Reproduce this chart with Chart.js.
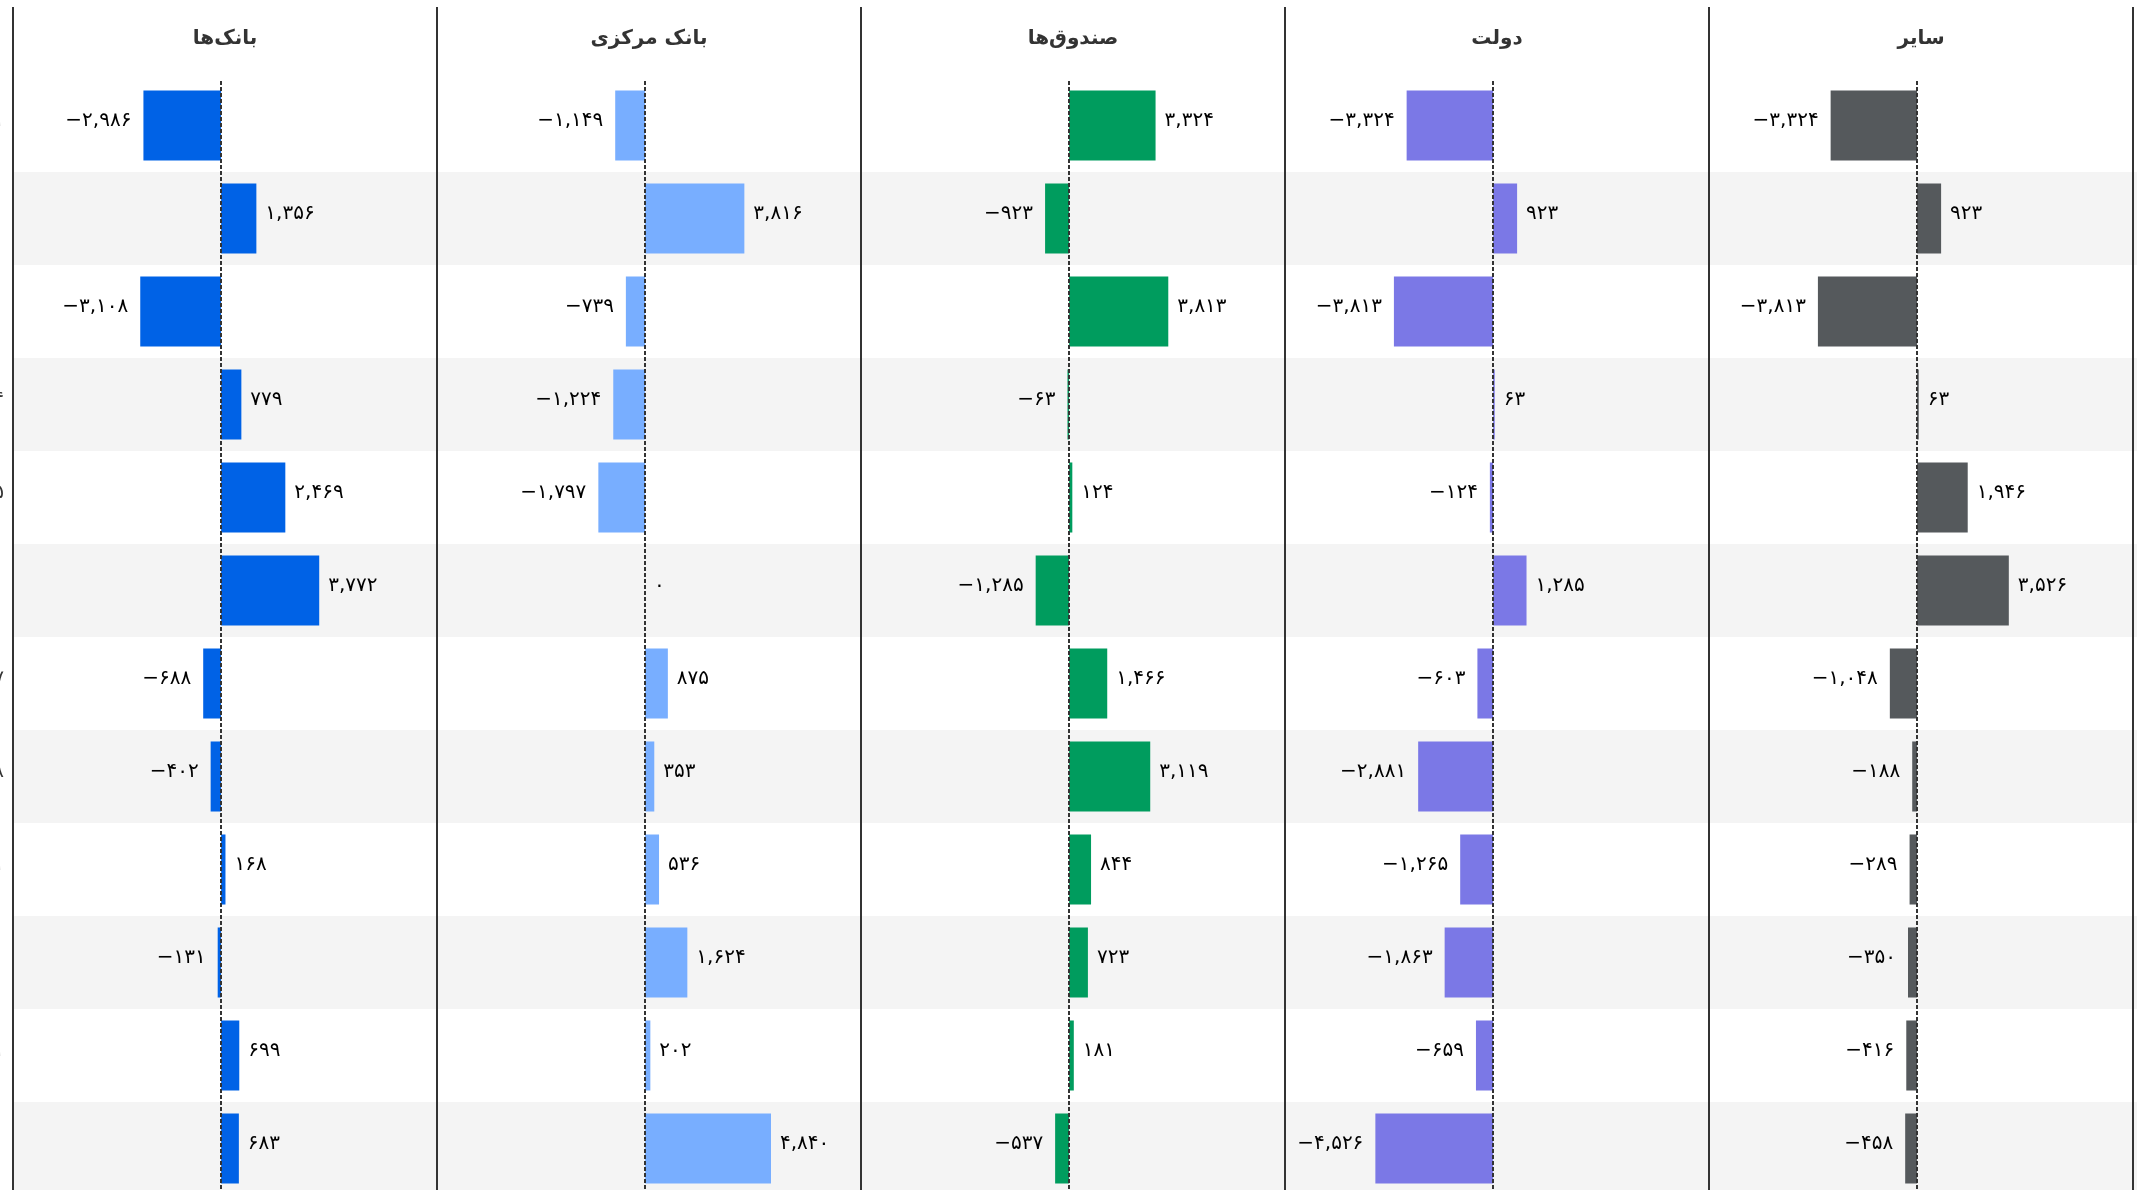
<!DOCTYPE html>
<html lang="fa">
<head>
    <meta charset="UTF-8">
    <title>سهم بخش‌ها</title>
    <style>
        body {
            margin: 0;
            width: 2137px;
            height: 1190px;
            overflow: hidden;
            position: relative;
            background: #ffffff;
            font-family: "DejaVu Sans", sans-serif;
        }
        .panel {
            position: absolute;
            top: 0;
        }
        .sep {
            position: absolute;
            top: 7px;
            height: 1190px;
            width: 2px;
            background: #333333;
        }
    </style>
</head>
<body>
    <div class="panel" style="left:-47px"><canvas id="c0" width="484" height="1200"></canvas></div>
    <div class="panel" style="left:437px"><canvas id="c1" width="424" height="1200"></canvas></div>
    <div class="panel" style="left:861px"><canvas id="c2" width="424" height="1200"></canvas></div>
    <div class="panel" style="left:1285px"><canvas id="c3" width="424" height="1200"></canvas></div>
    <div class="panel" style="left:1709px"><canvas id="c4" width="428" height="1200"></canvas></div>

    <div class="sep" style="left:12px"></div>
    <div class="sep" style="left:436px"></div>
    <div class="sep" style="left:860px"></div>
    <div class="sep" style="left:1284px"></div>
    <div class="sep" style="left:1708px"></div>
    <div class="sep" style="left:2132px"></div>

    <script src="https://cdn.jsdelivr.net/npm/chart.js"></script>
    <script>
        // row labels (only their last glyph is visible at the left edge)
        const categories = ['۱۴۰۱', '۱۴۰۰', '۱۳۹۰', '۱۳۹۴', '۱۳۹۵', '۱۳۸۰', '۱۳۹۷', '۱۳۹۸', '۱۳۹۱', '۱۳۷۰', '۱۳۸۱', '۱۳۶۰'];

        const panelTitles = ['بانک\u200cها', 'بانک مرکزی', 'صندوق\u200cها', 'دولت', 'سایر'];

        const banks = [-2986, 1356, -3108, 779, 2469, 3772, -688, -402, 168, -131, 699, 683];
        const centralBank = [-1149, 3816, -739, -1224, -1797, 0, 875, 353, 536, 1624, 202, 4840];
        const funds = [3324, -923, 3813, -63, 124, -1285, 1466, 3119, 844, 723, 181, -537];
        const government = [-3324, 923, -3813, 63, -124, 1285, -603, -2881, -1265, -1863, -659, -4526];
        const others = [-3324, 923, -3813, 63, 1946, 3526, -1048, -188, -289, -350, -416, -458];

        const panelColors = ['#0062e6', '#78aeff', '#009c5e', '#7b78e6', '#55595c'];

        const faDigits = '۰۱۲۳۴۵۶۷۸۹';
        function fmt(v) {
            const s = Math.abs(v).toLocaleString('en-US').replace(/\d/g, d => faDigits[d]);
            return (v < 0 ? '−' : '') + s;
        }

        Chart.defaults.font.family = '"DejaVu Sans", sans-serif';

        // alternating grey rows
        const rowBands = {
            id: 'rowBands',
            beforeDatasetsDraw(chart) {
                const { ctx, chartArea, scales } = chart;
                const y = scales.y;
                const h = y.getPixelForValue(1) - y.getPixelForValue(0);
                ctx.save();
                ctx.fillStyle = '#f4f4f4';
                for (let i = 1; i < categories.length; i += 2) {
                    const yc = y.getPixelForValue(i);
                    ctx.fillRect(chartArea.left, yc - h / 2, chart.width - chartArea.left, h);
                }
                ctx.restore();
            }
        };

        // category names left of the first panel
        const rowNames = {
            id: 'rowNames',
            afterDraw(chart, args, opts) {
                if (!opts.show) return;
                const { ctx, chartArea, scales } = chart;
                ctx.save();
                ctx.font = '20px "DejaVu Sans"';
                ctx.fillStyle = '#333333';
                ctx.textAlign = 'right';
                ctx.textBaseline = 'middle';
                chart.data.labels.forEach((lab, i) => {
                    ctx.fillText(lab, chartArea.left - 9, scales.y.getPixelForValue(i) - 5);
                });
                ctx.restore();
            }
        };

        // dashed zero line + value labels
        const zeroAndLabels = {
            id: 'zeroAndLabels',
            afterDatasetsDraw(chart) {
                const { ctx, chartArea, scales } = chart;
                const x0 = Math.round(scales.x.getPixelForValue(0));
                ctx.save();
                ctx.strokeStyle = '#333333';
                ctx.lineWidth = 2;
                ctx.setLineDash([4, 2]);
                ctx.beginPath();
                ctx.moveTo(x0, chartArea.top + 2);
                ctx.lineTo(x0, chartArea.bottom);
                ctx.stroke();
                ctx.setLineDash([]);

                const values = chart.data.datasets[0].data;
                ctx.font = '20px "DejaVu Sans"';
                ctx.fillStyle = '#000000';
                ctx.textBaseline = 'middle';
                chart.getDatasetMeta(0).data.forEach((bar, i) => {
                    const v = values[i];
                    if (v < 0) {
                        ctx.textAlign = 'right';
                        ctx.fillText(fmt(v), bar.x - 12, bar.y - 5);
                    } else {
                        ctx.textAlign = 'left';
                        ctx.fillText(fmt(v), bar.x + 9, bar.y - 5);
                    }
                });
                ctx.restore();
            }
        };

        function makePanel(id, title, values, color, index) {
            const first = index === 0;
            const last = index === 4;
            new Chart(document.getElementById(id), {
                type: 'bar',
                data: {
                    labels: categories,
                    datasets: [{
                        data: values,
                        backgroundColor: color,
                        borderWidth: 0,
                        barPercentage: 0.753,
                        categoryPercentage: 1
                    }]
                },
                options: {
                    indexAxis: 'y',
                    responsive: false,
                    animation: false,
                    devicePixelRatio: 1,
                    layout: { padding: { top: 0, bottom: 5, left: first ? 60 : 0, right: last ? 4 : 0 } },
                    plugins: {
                        legend: { display: false },
                        tooltip: { enabled: false },
                        rowNames: { show: first },
                        title: {
                            display: true,
                            text: title,
                            fullSize: false,
                            color: '#333333',
                            font: { size: 20, weight: 'bold', lineHeight: 1.2 },
                            padding: { top: 27, bottom: 28 }
                        }
                    },
                    scales: {
                        x: {
                            display: false,
                            min: -8000,
                            max: 8300
                        },
                        y: {
                            display: false
                        }
                    }
                },
                plugins: [rowBands, zeroAndLabels, rowNames]
            });
        }

        const panelValues = [banks, centralBank, funds, government, others];
        panelValues.forEach((vals, i) => makePanel('c' + i, panelTitles[i], vals, panelColors[i], i));
    </script>
</body>
</html>
